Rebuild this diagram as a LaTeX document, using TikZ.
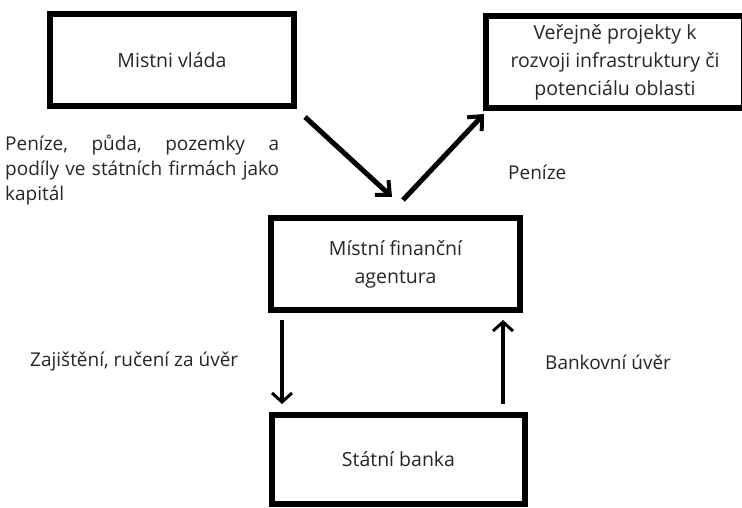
\documentclass[tikz,border=0pt]{standalone}
\usepackage{fontspec}
\setmainfont{Open Sans}
\usetikzlibrary{arrows.meta}
\begin{document}
\begin{tikzpicture}[x=1pt,y=-1pt,
  box/.style={draw=black,line width=6pt,fill=white,inner sep=0pt,align=center,font=\fontsize{19.5}{28}\selectfont,text=black!85},
  lbl/.style={inner sep=0pt,font=\fontsize{19}{25}\selectfont,text=black!85},
  thickarrow/.style={line width=5pt,-{Straight Barb[length=11pt,width=20pt,line width=4pt]}},
  thinarrow/.style={line width=3.5pt,-{Straight Barb[length=9pt,width=20pt,line width=3pt]}}]
\useasboundingbox (0,0) rectangle (742,508);
\fill[white] (0,0) rectangle (742,508);
\node[box,minimum width=244pt,minimum height=92pt] (vlada) at (172,60) {Mistni vláda};
\node[box,minimum width=258pt,minimum height=92pt] (proj) at (615,62) {Veřejně projekty k\\rozvoji infrastruktury či\\potenciálu oblasti};
\node[box,minimum width=249pt,minimum height=92pt] (agent) at (395.5,264) {Místní finanční\\agentura};
\node[box,minimum width=253pt,minimum height=89pt] (banka) at (398.5,459.5) {Státní banka};
\coordinate (d1s) at (305,117);
\coordinate (d1e) at (392,197);
\coordinate (d2s) at (403,200);
\coordinate (d2e) at (484,114);
\coordinate (v1s) at (282,320);
\coordinate (v1e) at (282,404);
\coordinate (v2s) at (503,404);
\coordinate (v2e) at (503,320);
\draw[thickarrow] (d1s) -- (d1e);
\draw[thickarrow] (d2s) -- (d2e);
\draw[thinarrow] (v1s) -- (v1e);
\draw[thinarrow] (v2s) -- (v2e);
\node[lbl,anchor=west,text width=274pt,align=left] (l1) at (5,170) {Peníze,\hfill půda,\hfill pozemky\hfill a\\podíly\hfill ve\hfill státních\hfill firmách\hfill jako\\kapitál};
\node[lbl,anchor=west] (l2) at (508,172) {Peníze};
\node[lbl,anchor=west] (l3) at (30,362) {Zajištění, ručení za úvěr};
\node[lbl,anchor=west] (l4) at (545,362) {Bankovní úvěr};
\end{tikzpicture}
\end{document}
